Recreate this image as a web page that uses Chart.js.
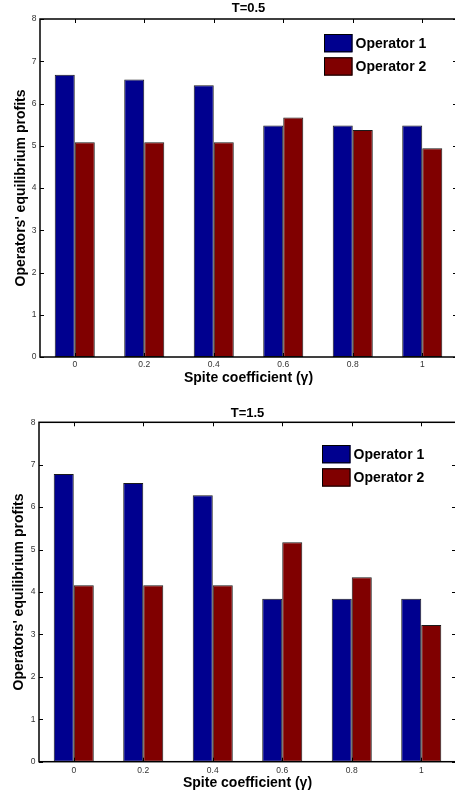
<!DOCTYPE html>
<html>
<head>
<meta charset="utf-8">
<script src="https://cdn.jsdelivr.net/npm/chart.js@4/dist/chart.umd.min.js"></script>
<style>
  html, body { margin: 0; padding: 0; background: #fff; overflow: hidden; width: 455px; height: 798px; }
  #wrap { position: relative; width: 455px; height: 798px; overflow: hidden; }
  canvas { position: absolute; left: 0; }
  #c1 { top: 0; }
  #c2 { top: 400px; }
</style>
</head>
<body>
<div id="wrap">
  <canvas id="c1" width="460" height="400"></canvas>
  <canvas id="c2" width="460" height="398"></canvas>
</div>
<script>
// ---- data ----
const categories = ['0', '0.2', '0.4', '0.6', '0.8', '1'];
const seriesNames = ['Operator 1', 'Operator 2'];
const op1_T05 = [6.68, 6.57, 6.43, 5.48, 5.48, 5.48];
const op2_T05 = [5.08, 5.08, 5.08, 5.67, 5.37, 4.94];
const op1_T15 = [6.78, 6.57, 6.28, 3.84, 3.84, 3.84];
const op2_T15 = [4.16, 4.16, 4.16, 5.17, 4.35, 3.22];
const yMin = 0, yMax = 8, yStep = 1;
const titles = ['T=0.5', 'T=1.5'];
const xTitle = 'Spite coefficient (\u03b3)';
const yTitle = "Operators' equilibrium profits";

const FONT = "'Liberation Sans', Arial, Helvetica, sans-serif";
const BLUE = '#00008F';
const RED = '#800000';

const framePlugin = {
  id: 'frame',
  afterDatasetsDraw(chart, args, opts) {
    const ctx = chart.ctx;
    const {left, right, top, bottom} = chart.chartArea;
    const x = chart.scales.x, y = chart.scales.y;
    ctx.save();
    ctx.strokeStyle = '#000';
    ctx.lineWidth = 1;
    const tl = 4;
    ctx.beginPath();
    for (let i = 0; i < categories.length; i++) {
      const px = Math.round(x.getPixelForTick(i)) + 0.5;
      ctx.moveTo(px, top); ctx.lineTo(px, top + tl);
      ctx.moveTo(px, bottom); ctx.lineTo(px, bottom - tl);
    }
    for (let v = yMin; v <= yMax; v += yStep) {
      const py = Math.round(y.getPixelForValue(v)) + 0.5;
      ctx.moveTo(left, py); ctx.lineTo(left + tl, py);
      ctx.moveTo(right, py); ctx.lineTo(right - tl, py);
    }
    ctx.stroke();
    ctx.lineWidth = 1.5;
    ctx.strokeRect(left, top, right - left, bottom - top);

    // legend
    const lg = opts.legend;
    const sw = 28.5, sh = 18.3, gap = 23.3;
    chart.data.datasets.forEach((ds, i) => {
      const lx = lg.x, ly = lg.y + i * gap;
      ctx.fillStyle = ds.backgroundColor;
      ctx.fillRect(lx, ly, sw, sh);
      ctx.lineWidth = 1;
      ctx.strokeStyle = '#000';
      ctx.strokeRect(lx + 0.5, ly + 0.5, sw - 1, sh - 1);
      ctx.fillStyle = '#000';
      ctx.font = 'bold 14px ' + FONT;
      ctx.textBaseline = 'middle';
      ctx.textAlign = 'left';
      ctx.fillText(ds.label, lx + sw + 3, ly + sh / 2 + 0.5);
    });
    ctx.restore();
  }
};

function makeChart(id, title, op1, op2, L) {
  return new Chart(document.getElementById(id), {
    type: 'bar',
    data: {
      labels: categories,
      datasets: [
        { label: seriesNames[0], data: op1, backgroundColor: BLUE, borderColor: '#1a1a1a', borderWidth: 1, borderSkipped: false },
        { label: seriesNames[1], data: op2, backgroundColor: RED, borderColor: '#1a1a1a', borderWidth: 1, borderSkipped: false }
      ]
    },
    options: {
      responsive: false,
      animation: false,
      events: [],
      categoryPercentage: 0.576,
      barPercentage: 1.0,
      layout: { padding: { left: 0, right: L.padRight, top: 0, bottom: 0 } },
      plugins: {
        legend: { display: false },
        tooltip: { enabled: false },
        title: {
          display: true, text: title, color: '#000', fullSize: false,
          font: { family: FONT, size: 13, weight: 'bold', lineHeight: 1.2 },
          padding: { top: L.titleTop, bottom: L.titleBottom }
        },
        frame: { legend: L.legend }
      },
      scales: {
        x: {
          type: 'category',
          grid: { display: false, drawTicks: false },
          border: { display: false },
          ticks: { color: '#333', font: { family: FONT, size: 8.5 }, padding: L.xTickPad, autoSkip: false, maxRotation: 0 },
          title: { display: true, text: xTitle, color: '#000', font: { family: FONT, size: 14, weight: 'bold', lineHeight: 1.2 }, padding: { top: 0, bottom: L.xTitlePad } },
          afterFit(s) { s.height = L.xHeight; }
        },
        y: {
          min: yMin, max: yMax,
          grid: { display: false, drawTicks: false },
          border: { display: false },
          ticks: { stepSize: yStep, color: '#333', font: { family: FONT, size: 8.5 }, padding: 3.5 },
          title: { display: true, text: yTitle, color: '#000', font: { family: FONT, size: 14, weight: 'bold', lineHeight: 1.2 }, padding: { top: L.yTitlePad, bottom: 0 } },
          afterFit(s) { s.width = L.yWidth; }
        }
      }
    },
    plugins: [framePlugin]
  });
}

makeChart('c1', titles[0], op1_T05, op2_T05, {
  padRight: 3, titleTop: 1, titleBottom: 2.4, xTickPad: 3, xTitlePad: 13.6, xHeight: 43,
  yTitlePad: 12.6, yWidth: 40, legend: { x: 324, y: 34 }
});
makeChart('c2', titles[1], op1_T15, op2_T15, {
  padRight: 4, titleTop: 5.2, titleBottom: 1.5, xTickPad: 4.2, xTitlePad: 6.9, xHeight: 36.3,
  yTitlePad: 10.6, yWidth: 39, legend: { x: 322, y: 45 }
});
</script>
</body>
</html>
